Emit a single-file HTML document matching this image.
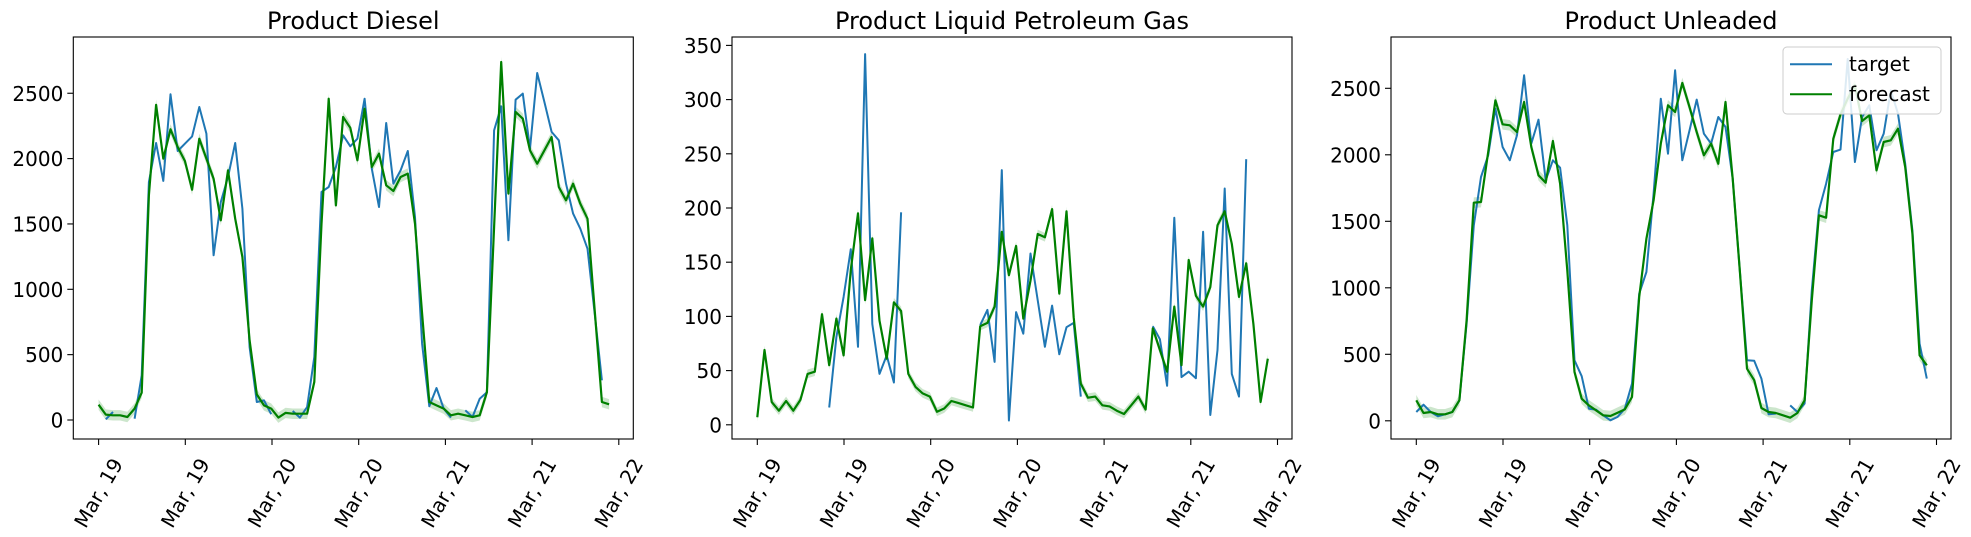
<!DOCTYPE html>
<html><head><meta charset="utf-8"><style>
html,body{margin:0;padding:0;background:#fff;}
svg{display:block;font-family:"DejaVu Sans","Liberation Sans",sans-serif;}
</style></head><body>
<svg id="chart" width="1971" height="537" viewBox="0 0 1971 537" xmlns="http://www.w3.org/2000/svg"></svg>
<script>
const xTickLabels = ["Mar, 19","Mar, 19","Mar, 20","Mar, 20","Mar, 21","Mar, 21","Mar, 22"];
const titles = ["Product Diesel","Product Liquid Petroleum Gas","Product Unleaded"];
const yTicksDiesel = [0,500,1000,1500,2000,2500];
const yTicksLpg = [0,50,100,150,200,250,300,350];
const yTicksUnleaded = [0,500,1000,1500,2000,2500];
const N = null;
const dieselTarget = [N,5,61,N,N,10,342,1821,2119,1829,2492,2058,2114,2170,2395,2191,1260,1668,1859,2119,1617,558,138,150,44,N,N,69,18,99,482,1745,1783,1936,2178,2094,2152,2458,1923,1630,2272,1808,1910,2058,1553,584,105,245,87,18,N,74,23,163,212,2216,2400,1375,2451,2497,2076,2655,2433,2204,2140,1808,1579,1464,1311,813,304,N];
const dieselForecast = [117,41,36,36,23,87,209,1720,2412,2000,2224,2089,1982,1762,2152,2000,1846,1528,1910,1540,1247,610,196,112,87,18,54,48,48,48,291,1500,2458,1642,2318,2236,1987,2382,1936,2038,1796,1752,1859,1885,1502,814,138,112,87,36,48,36,23,36,212,1477,2739,1732,2357,2305,2063,1961,2063,2165,1783,1681,1808,1655,1540,839,138,120];
const lpgTarget = [N,N,N,N,N,N,N,N,N,N,16,81,118,162,72,342,93,47,64,39,196,N,N,N,N,N,N,N,N,N,N,92,106,58,235,4,104,84,158,115,72,110,65,90,94,26,N,N,N,N,N,N,N,N,N,91,79,36,191,44,49,43,178,9,69,218,47,26,245,N,N,N];
const lpgForecast = [7,69,21,13,22,13,23,47,49,102,55,98,64,143,195,115,172,96,61,113,105,47,35,29,26,12,15,22,20,18,16,91,94,109,178,138,165,98,133,176,173,199,121,197,99,38,25,26,18,17,13,10,18,26,14,89,69,49,109,55,152,119,109,127,184,197,167,118,149,93,21,61];
const unleadedTarget = [66,121,66,34,49,66,154,731,1470,1833,1996,2347,2059,1959,2147,2598,2084,2264,1808,1959,1903,1470,455,335,91,84,41,4,29,91,279,956,1119,1708,2422,2008,2635,1959,2183,2415,2159,2084,2284,2209,1820,1131,455,452,317,49,54,N,116,66,129,981,1583,1783,2021,2039,2720,1946,2284,2372,2034,2159,2485,2309,1933,1432,580,317];
const unleadedForecast = [154,59,66,49,49,66,154,756,1640,1645,2021,2410,2229,2222,2171,2397,2059,1846,1790,2104,1783,1131,367,166,116,79,41,36,61,86,179,931,1369,1658,2084,2372,2322,2540,2359,2171,1996,2084,1933,2397,1820,1131,392,305,96,66,59,41,23,59,154,906,1545,1527,2121,2304,2422,2522,2254,2297,1883,2096,2109,2196,1908,1407,492,417];

const NS = "http://www.w3.org/2000/svg";
const svg = document.getElementById('chart');
function mk(tag, attrs, parent){const e=document.createElementNS(NS,tag);for(const k in attrs)e.setAttribute(k,attrs[k]);(parent||svg).appendChild(e);return e;}

const panels = [
  {key:'diesel', left:73.3, title:titles[0], ticks:yTicksDiesel, y0:420, pxPerUnit:65.35/500, target:dieselTarget, forecast:dieselForecast, band:40},
  {key:'lpg', left:732, title:titles[1], ticks:yTicksLpg, y0:424.8, pxPerUnit:54.2/50, target:lpgTarget, forecast:lpgForecast, band:4},
  {key:'unleaded', left:1391, title:titles[2], ticks:yTicksUnleaded, y0:420.8, pxPerUnit:66.5/500, target:unleadedTarget, forecast:unleadedForecast, band:40}
];
const TOP=37, BOTTOM=439, W=560, STEP=7.19, OFF=25.3, XT=86.7;

panels.forEach(p=>{
  const g = mk('g',{});
  
  
  const xs = i => p.left + OFF + i*STEP;
  const ys = v => p.y0 - v*p.pxPerUnit;
  const t = mk('text',{x:p.left+W/2,y:29,'text-anchor':'middle','font-size':24,fill:'#000'},g);
  t.textContent = p.title;
  
  
  let up=[],dn=[];
  p.forecast.forEach((v,i)=>{ if(v!==null){up.push(xs(i)+','+ys(v+p.band)); dn.unshift(xs(i)+','+ys(v-p.band));} });
  const band = mk('polygon',{points:up.concat(dn).join(' '),fill:'#008000','fill-opacity':0.2,stroke:'none'},g);
  
  
  let segs=[],cur=[];
  p.target.forEach((v,i)=>{ if(v===null){ if(cur.length)segs.push(cur); cur=[]; } else cur.push(xs(i).toFixed(1)+','+ys(v).toFixed(1)); });
  if(cur.length)segs.push(cur);
  segs.forEach(s=>{
    const l = mk('polyline',{points:s.join(' '),fill:'none',stroke:'#1f77b4','stroke-width':2,'stroke-linejoin':'round'},g);
    
    
  });
  const fp = p.forecast.map((v,i)=>xs(i).toFixed(1)+','+ys(v).toFixed(1)).join(' ');
  const fl = mk('polyline',{points:fp,fill:'none',stroke:'#008000','stroke-width':2.2,'stroke-linejoin':'round'},g);
  
  
  const r = mk('rect',{x:p.left,y:TOP,width:W,height:BOTTOM-TOP,fill:'none',stroke:'#000','stroke-width':1.1},g);
  
  
  p.ticks.forEach(v=>{
    const y=ys(v);
    mk('line',{x1:p.left-6,x2:p.left,y1:y,y2:y,stroke:'#000','stroke-width':1.1},g);
    const tl = mk('text',{x:p.left-10,y:y+7.5,'text-anchor':'end','font-size':20,fill:'#000'},g);
    tl.textContent = v;
    
    
  });
  xTickLabels.forEach((lab,k)=>{
    const x = p.left+OFF+k*XT;
    mk('line',{x1:x,x2:x,y1:BOTTOM,y2:BOTTOM+6,stroke:'#000','stroke-width':1.1},g);
    const cy = 493;
    const tl = mk('text',{x:x,y:cy,'text-anchor':'middle','dominant-baseline':'central','font-size':20,fill:'#000',transform:'rotate(-60 '+x+' '+cy+')'},g);
    tl.textContent = lab;
    
    
  });
});
const lg = mk('g',{});


mk('rect',{x:1783,y:47,width:158,height:67,rx:4,fill:'#fff','fill-opacity':0.85,stroke:'#ccc','stroke-width':1},lg);
mk('line',{x1:1790,x2:1832,y1:64.3,y2:64.3,stroke:'#1f77b4','stroke-width':2},lg);
mk('line',{x1:1790,x2:1832,y1:94.3,y2:94.3,stroke:'#008000','stroke-width':2},lg);
const t1 = mk('text',{x:1849,y:71,'font-size':20,fill:'#000'},lg); t1.textContent='target';


const t2 = mk('text',{x:1849,y:101,'font-size':20,fill:'#000'},lg); t2.textContent='forecast';


</script>
</body></html>
